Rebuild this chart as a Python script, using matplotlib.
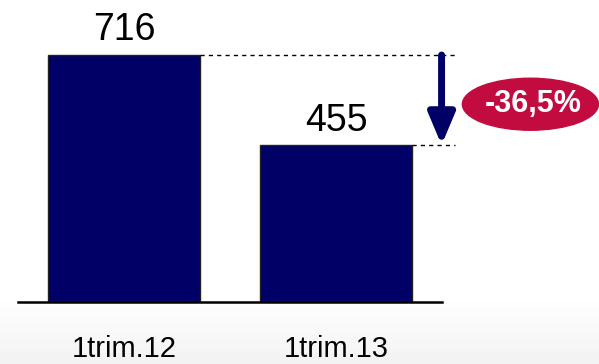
import numpy as np
import matplotlib.pyplot as plt
from matplotlib.patches import Ellipse

categories = ["1trim.12", "1trim.13"]
values = [716, 455]
change_label = "-36,5%"

navy = "#000066"
red = "#C20C40"

plt.rcParams['font.family'] = ['Liberation Sans', 'DejaVu Sans']

W, H = 599, 364
fig = plt.figure(figsize=(W / 100, H / 100), dpi=100)

# subtle background gradient towards the bottom
bg = fig.add_axes([0, 0, 1, 1], zorder=-10)
grad = np.ones((H, 1))
rows = np.arange(H)
grad[:, 0] = np.where(rows > 295, 1 - 0.045 * np.clip((rows - 295) / 60, 0, 1), 1.0)
bg.imshow(grad, aspect='auto', cmap='gray', vmin=0, vmax=1, extent=[0, 1, 0, 1], origin='upper')
bg.axis('off')

# main axes: baseline at y=302px, x from 18 to 442 px
ax = fig.add_axes([18 / W, (H - 302) / H, (442 - 18) / W, (302 - 5) / H])
ax.patch.set_alpha(0)
top = values[0] * 297 / 247
ax.set_ylim(0, top)
ax.set_xlim(-0.5, 1.5)

x = np.arange(len(values))
ax.bar(x, values, width=0.72, color=navy, edgecolor='#222222', linewidth=1)

for xi, v in zip(x, values):
    ax.text(xi, v + top * 0.022, str(v), ha='center', va='bottom', fontsize=27)

for s in ['top', 'right', 'left']:
    ax.spines[s].set_visible(False)
ax.spines['bottom'].set_linewidth(1.8)
ax.set_yticks([])
ax.set_xticks(x)
ax.set_xticklabels(categories, fontsize=21)
ax.tick_params(axis='x', length=0, pad=24)

# dashed guide lines
dash_end = 1.56
ax.plot([0.36, dash_end], [values[0]] * 2, ls=(0, (3, 3)), color='black', lw=1.0, clip_on=False)
ax.plot([1.36, dash_end], [values[1]] * 2, ls=(0, (3, 3)), color='black', lw=1.0, clip_on=False)

# arrow
ax.annotate('', xy=(1.498, values[1]), xytext=(1.498, values[0]),
            arrowprops=dict(arrowstyle='-|>,head_width=0.8,head_length=1.9',
                            color=navy, lw=5, shrinkA=0, shrinkB=0),
            annotation_clip=False)

# change badge
ymid = (values[0] + values[1]) / 2 + 0.05 * values[0] - 48
ell = Ellipse((1.917, ymid), 0.642, 52 * values[0] / 247, color=red,
              clip_on=False, zorder=5)
ax.add_patch(ell)
ax.text(1.93, ymid, change_label, ha='center', va='center', color='white',
        fontsize=22, fontweight='bold', zorder=6, clip_on=False)

fig.savefig('out.png', dpi=100)
